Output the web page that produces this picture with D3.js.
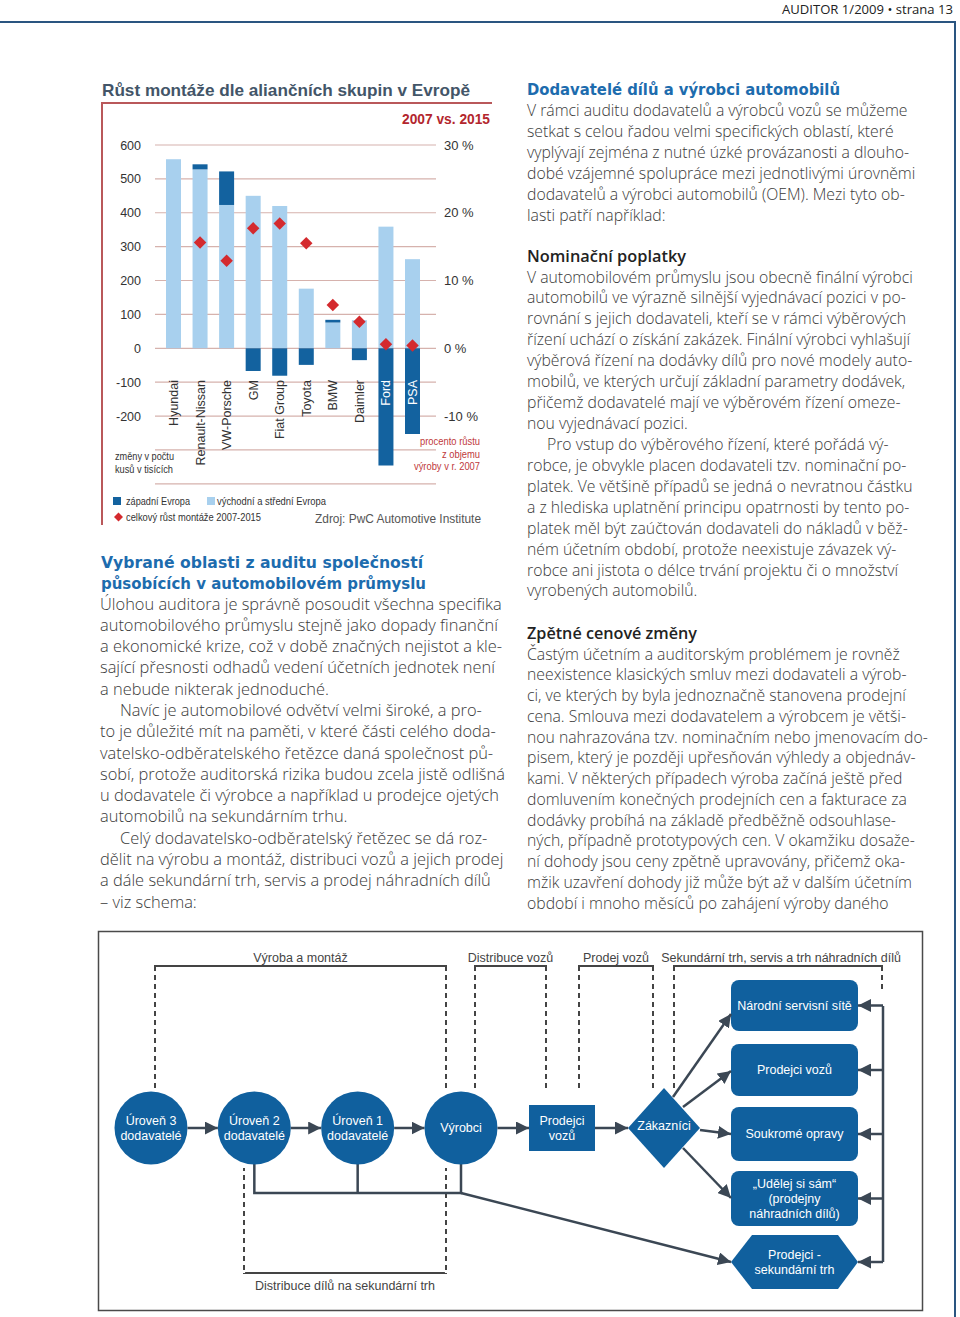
<!DOCTYPE html>
<html><head><meta charset="utf-8">
<script src="https://cdn.jsdelivr.net/npm/d3@7"></script>
<style>body{margin:0;background:#fff}svg{display:block}</style>
</head><body>
<svg id="page" width="960" height="1317"></svg>
<script>
// ---------- chart data ----------
const categories = ["Hyundai","Renault-Nissan","VW-Porsche","GM","Fiat Group","Toyota","BMW","Daimler","Ford","PSA"];
const eastCentral = [558,528,423,450,420,176,76,83,359,263];      // východní a střední Evropa (tis. ks)
const western     = [0,15,99,-67,-81,-49,8,-35,-346,-253];         // západní Evropa (tis. ks)
const totalGrowthPct = [null,15.6,12.9,17.7,18.4,15.5,6.4,3.9,0.6,0.4]; // celkový růst montáže (%)
const leftTicks  = [600,500,400,300,200,100,0,-100,-200];
const gridTicks  = [600,500,400,300,200,100,0,-100,-200,-300,-400];
const rightTicks = [30,20,10,0,-10];
const chartTitle = "Růst montáže dle aliančních skupin v Evropě";

// ---------- text ----------
const headerText = "AUDITOR 1/2009 • strana 13";
const leftHeading = ["Vybrané oblasti z auditu společností","působících v automobilovém průmyslu"];
const leftBody = [
 "Úlohou auditora je správně posoudit všechna specifika",
 "automobilového průmyslu stejně jako dopady finanční",
 "a ekonomické krize, což v době značných nejistot a kle-",
 "sající přesnosti odhadů vedení účetních jednotek není",
 "a nebude nikterak jednoduché.",
 "\tNavíc je automobilové odvětví velmi široké, a pro-",
 "to je důležité mít na paměti, v které části celého doda-",
 "vatelsko-odběratelského řetězce daná společnost pů-",
 "sobí, protože auditorská rizika budou zcela jistě odlišná",
 "u dodavatele či výrobce a například u prodejce ojetých",
 "automobilů na sekundárním trhu.",
 "\tCelý dodavatelsko-odběratelský řetězec se dá roz-",
 "dělit na výrobu a montáž, distribuci vozů a jejich prodej",
 "a dále sekundární trh, servis a prodej náhradních dílů",
 "– viz schema:"
];
const rightHeading1 = "Dodavatelé dílů a výrobci automobilů";
const rightBody1 = [
 "V rámci auditu dodavatelů a výrobců vozů se můžeme",
 "setkat s celou řadou velmi specifických oblastí, které",
 "vyplývají zejména z nutné úzké provázanosti a dlouho-",
 "dobé vzájemné spolupráce mezi jednotlivými úrovněmi",
 "dodavatelů a výrobci automobilů (OEM). Mezi tyto ob-",
 "lasti patří například:"
];
const rightHeading2 = "Nominační poplatky";
const rightBody2 = [
 "V automobilovém průmyslu jsou obecně finální výrobci",
 "automobilů ve výrazně silnější vyjednávací pozici v po-",
 "rovnání s jejich dodavateli, kteří se v rámci výběrových",
 "řízení uchází o získání zakázek. Finální výrobci vyhlašují",
 "výběrová řízení na dodávky dílů pro nové modely auto-",
 "mobilů, ve kterých určují základní parametry dodávek,",
 "přičemž dodavatelé mají ve výběrovém řízení omeze-",
 "nou vyjednávací pozici.",
 "\tPro vstup do výběrového řízení, které pořádá vý-",
 "robce, je obvykle placen dodavateli tzv. nominační po-",
 "platek. Ve většině případů se jedná o nevratnou částku",
 "a z hlediska uplatnění principu opatrnosti by tento po-",
 "platek měl být zaúčtován dodavateli do nákladů v běž-",
 "ném účetním období, protože neexistuje závazek vý-",
 "robce ani jistota o délce trvání projektu či o množství",
 "vyrobených automobilů."
];
const rightHeading3 = "Zpětné cenové změny";
const rightBody3 = [
 "Častým účetním a auditorským problémem je rovněž",
 "neexistence klasických smluv mezi dodavateli a výrob-",
 "ci, ve kterých by byla jednoznačně stanovena prodejní",
 "cena. Smlouva mezi dodavatelem a výrobcem je větši-",
 "nou nahrazována tzv. nominačním nebo jmenovacím do-",
 "pisem, který je později upřesňován výhledy a objednáv-",
 "kami. V některých případech výroba začíná ještě před",
 "domluvením konečných prodejních cen a fakturace za",
 "dodávky probíhá na základě předběžně odsouhlase-",
 "ných, případně prototypových cen. V okamžiku dosaže-",
 "ní dohody jsou ceny zpětně upravovány, přičemž oka-",
 "mžik uzavření dohody již může být až v dalším účetním",
 "období i mnoho měsíců po zahájení výroby daného"
];

// ---------- diagram labels ----------
const chainNodes = ["Úroveň 3\ndodavatelé","Úroveň 2\ndodavatelé","Úroveň 1\ndodavatelé","Výrobci"];
const serviceNodes = ["Národní servisní sítě","Prodejci vozů","Soukromé opravy","„Udělej si sám“\n(prodejny\nnáhradních dílů)","Prodejci -\nsekundární trh"];
const sectionLabels = ["Výroba a montáž","Distribuce vozů","Prodej vozů","Sekundární trh, servis a trh náhradních dílů"];

const svg = d3.select("#page");
const SANS = "'Liberation Sans', Arial, sans-serif";
const BODY = "'Open Sans', 'Noto Sans', sans-serif";

// ---------- header ----------
svg.append("text").attr("x",953).attr("y",14).attr("text-anchor","end")
  .attr("font-family",BODY).attr("font-size",12.5).attr("fill","#222")
  .attr("textLength",171).attr("lengthAdjust","spacingAndGlyphs").text(headerText);
svg.append("path").attr("d","M0,22H955V1317").attr("fill","none").attr("stroke","#2a5580").attr("stroke-width",2);

// ---------- chart ----------
const ch = svg.append("g");
ch.append("text").attr("x",102).attr("y",96).attr("font-family",SANS).attr("font-weight","bold")
  .attr("font-size",17).attr("fill","#435568").attr("textLength",368).attr("lengthAdjust","spacingAndGlyphs").text(chartTitle);
ch.append("path").attr("d","M102,525V103H492").attr("stroke","#b9585a").attr("stroke-width",2).attr("fill","none");
ch.append("text").attr("x",490).attr("y",124).attr("text-anchor","end").attr("font-family",SANS).attr("font-weight","bold")
  .attr("font-size",14).attr("fill","#b3262d").attr("textLength",88).attr("lengthAdjust","spacingAndGlyphs").text("2007 vs. 2015");

const y = d3.scaleLinear().domain([-400,600]).range([483.8,145]);
const yPct = d3.scaleLinear().domain([-20,30]).range([483.8,145]);
const x = d3.scalePoint().domain(categories).range([173.5,412.5]);
const barW = 15;

ch.append("g").selectAll("line").data(gridTicks).join("line")
  .attr("x1",155).attr("x2",436).attr("y1",d=>y(d)).attr("y2",d=>y(d))
  .attr("stroke","#d6b2ad").attr("stroke-width",1.2);

const la = ch.append("g").attr("transform","translate(141,0)")
  .call(d3.axisLeft(y).tickValues(leftTicks).tickSize(0).tickPadding(0).tickFormat(d=>String(d)));
la.select(".domain").remove();
la.selectAll("text").attr("font-family",SANS).attr("font-size",12.5).attr("fill","#333");

const ra = ch.append("g").attr("transform","translate(444,0)")
  .call(d3.axisRight(yPct).tickValues(rightTicks).tickSize(0).tickPadding(0).tickFormat(d=>String(d)+" %"));
ra.select(".domain").remove();
ra.selectAll("text").attr("font-family",SANS).attr("font-size",13).attr("fill","#333");

const LIGHT = "#a8d0ee", DARK = "#13629f";
ch.append("g").selectAll("rect").data(categories).join("rect")
  .attr("x",d=>x(d)-barW/2).attr("width",barW)
  .attr("y",(d,i)=>y(eastCentral[i])).attr("height",(d,i)=>y(0)-y(eastCentral[i]))
  .attr("fill",LIGHT);
ch.append("g").selectAll("rect").data(categories).join("rect")
  .attr("x",d=>x(d)-barW/2).attr("width",barW)
  .attr("y",(d,i)=> western[i]>=0 ? y(eastCentral[i]+western[i]) : y(0))
  .attr("height",(d,i)=> western[i]>=0 ? y(eastCentral[i])-y(eastCentral[i]+western[i]) : y(western[i])-y(0))
  .attr("fill",DARK);

const diamond = d3.symbol(d3.symbolSquare, 78);
ch.append("g").selectAll("path").data(categories.map((c,i)=>({c,v:totalGrowthPct[i]})).filter(d=>d.v!==null)).join("path")
  .attr("d",diamond).attr("transform",d=>`translate(${x(d.c)},${yPct(d.v)}) rotate(45)`)
  .attr("fill","#d42a2e");

ch.append("g").selectAll("text").data(categories).join("text")
  .attr("transform",d=>`translate(${x(d)+4.5},380) rotate(-90)`)
  .attr("text-anchor","end").attr("font-family",SANS).attr("font-size",12.5)
  .attr("fill",(d,i)=> (western[i] < -200) ? "#fff" : "#333").text(d=>d);

function ltext(g, t, xx, yy, w, opts={}) {
  const el = g.append("text").attr("x",xx).attr("y",yy).attr("font-family",opts.family||SANS)
    .attr("font-size",opts.size||10.5).attr("fill",opts.fill||"#333").text(t);
  if (opts.anchor) el.attr("text-anchor",opts.anchor);
  if (opts.weight) el.attr("font-weight",opts.weight);
  if (w) el.attr("textLength",w).attr("lengthAdjust","spacingAndGlyphs");
  return el;
}
ltext(ch,"změny v počtu",115,460,59);
ltext(ch,"kusů v tisících",115,472.5,58);
ltext(ch,"procento růstu",480,445,60,{anchor:"end",fill:"#c0393b"});
ltext(ch,"z objemu",480,457.5,38,{anchor:"end",fill:"#c0393b"});
ltext(ch,"výroby v r. 2007",480,470,66,{anchor:"end",fill:"#c0393b"});
ch.append("rect").attr("x",113).attr("y",497).attr("width",8).attr("height",8).attr("fill",DARK);
ltext(ch,"západní Evropa",126,505,64);
ch.append("rect").attr("x",207).attr("y",497).attr("width",8).attr("height",8).attr("fill",LIGHT);
ltext(ch,"východní a střední Evropa",217,505,109);
ch.append("path").attr("d",d3.symbol(d3.symbolSquare,40)).attr("transform","translate(118.5,517) rotate(45)").attr("fill","#d42a2e");
ltext(ch,"celkový růst montáže 2007-2015",126,521,135);
ltext(ch,"Zdroj: PwC Automotive Institute",481,523,166,{anchor:"end",size:13,fill:"#555"});

// ---------- body text ----------
const tg = svg.append("g");
function heading(t, xx, yy, w, color, family, weight, size) {
  return tg.append("text").attr("x",xx).attr("y",yy).attr("font-family",family).attr("font-weight",weight)
    .attr("font-size",size).attr("fill",color).attr("textLength",w).attr("lengthAdjust","spacingAndGlyphs").text(t);
}
const BLUE = "#1d6cae";
heading(rightHeading1,527,95,313,BLUE,"'DejaVu Sans', Verdana, sans-serif","bold",15);
heading(leftHeading[0],101,568,322,BLUE,"'DejaVu Sans', Verdana, sans-serif","bold",15);
heading(leftHeading[1],101,589,325,BLUE,"'DejaVu Sans', Verdana, sans-serif","bold",15);
heading(rightHeading2,527,262,159,"#222",BODY,"600",15.5);
heading(rightHeading3,527,639,170,"#222",BODY,"600",15.5);

const blocks = [
  {lines:leftBody, x:100, y0:609.5, step:21.29, col:0},
  {lines:rightBody1, x:527, y0:115.5, step:21, col:1},
  {lines:rightBody2, x:527, y0:282.5, step:20.93, col:1},
  {lines:rightBody3, x:527, y0:659.5, step:20.75, col:1}
];
const allText = [];
blocks.forEach(b=>{
  b.lines.forEach((ln,i)=>{
    const ind = ln.startsWith("\t");
    const t = tg.append("text").attr("x",b.x+(ind?20:0)).attr("y",b.y0+i*b.step)
      .attr("font-family",BODY).attr("font-weight",300).attr("font-size",15).attr("fill","#3a3a3a").text(ind?ln.slice(1):ln);
    allText.push({t, col:b.col, ind});
  });
});
const targets = [405, 401];
[0,1].forEach(c=>{
  const items = allText.filter(d=>d.col===c);
  const mx = d3.max(items, d=>d.t.node().getComputedTextLength() + (d.ind?20:0));
  const fs = 15 * targets[c] / mx;
  items.forEach(d=>d.t.attr("font-size",fs));
});

// ---------- diagram ----------
const dg = svg.append("g");
dg.append("rect").attr("x",98.5).attr("y",931.5).attr("width",824).attr("height",379)
  .attr("fill","none").attr("stroke","#4a4a4a").attr("stroke-width",1.5);
const NODE = "#10609e", ARW = "#3b4754";
svg.append("defs").append("marker").attr("id","ah").attr("viewBox","0 0 10 10").attr("refX",10).attr("refY",5)
  .attr("markerUnits","userSpaceOnUse").attr("markerWidth",13).attr("markerHeight",13).attr("orient","auto")
  .append("path").attr("d","M0,0L10,5L0,10z").attr("fill",ARW);

// brackets
const brackets = [
  {x1:155,x2:446,top:966,lb:1088,rb:1088},
  {x1:475,x2:546,top:966,lb:1088,rb:1088},
  {x1:579,x2:653,top:966,lb:1088,rb:1088},
  {x1:674,x2:882,top:966,lb:1088,rb:992}
];
brackets.forEach((b,i)=>{
  dg.append("line").attr("x1",b.x1-1).attr("x2",b.x2+1).attr("y1",b.top).attr("y2",b.top).attr("stroke","#444").attr("stroke-width",2);
  dg.append("line").attr("x1",b.x1).attr("x2",b.x1).attr("y1",b.top).attr("y2",b.lb).attr("stroke","#444").attr("stroke-width",2).attr("stroke-dasharray","5,4");
  dg.append("line").attr("x1",b.x2).attr("x2",b.x2).attr("y1",b.top).attr("y2",b.rb).attr("stroke","#444").attr("stroke-width",2).attr("stroke-dasharray","5,4");
  dg.append("text").attr("x",i===3?781:(b.x1+b.x2)/2).attr("y",961.5).attr("text-anchor","middle")
    .attr("font-family",SANS).attr("font-size",12.5).attr("fill","#444").text(sectionLabels[i]);
});
// bottom bracket
dg.append("path").attr("d","M244,1168V1273H446V1168").attr("fill","none").attr("stroke","#444").attr("stroke-width",2);
dg.append("line").attr("x1",244).attr("x2",244).attr("y1",1166).attr("y2",1273).attr("stroke","#fff").attr("stroke-width",2.2).attr("stroke-dasharray","0,5,4,0");
dg.append("line").attr("x1",446).attr("x2",446).attr("y1",1166).attr("y2",1273).attr("stroke","#fff").attr("stroke-width",2.2).attr("stroke-dasharray","0,5,4,0");
dg.append("text").attr("x",345).attr("y",1289.5).attr("text-anchor","middle").attr("font-family",SANS)
  .attr("font-size",12.5).attr("fill","#444").text("Distribuce dílů na sekundární trh");

function multiline(g, lines, cx, cy, lh, size) {
  const t = g.append("text").attr("text-anchor","middle").attr("font-family",SANS).attr("font-size",size).attr("fill","#fff");
  lines.forEach((l,i)=>t.append("tspan").attr("x",cx).attr("y",cy + (i-(lines.length-1)/2)*lh + size*0.35).text(l));
}
function arrow(x1,y1,x2,y2) {
  dg.append("line").attr("x1",x1).attr("y1",y1).attr("x2",x2).attr("y2",y2)
    .attr("stroke",ARW).attr("stroke-width",2.5).attr("marker-end","url(#ah)");
}
function seg(d) { dg.append("path").attr("d",d).attr("fill","none").attr("stroke",ARW).attr("stroke-width",2.5); }

const cx = d3.scalePoint().domain(chainNodes).range([151,461]);
const CY = 1128, R = 36.5;
// collection lines
seg(`M${cx(chainNodes[1])},${CY}V1193H${cx(chainNodes[3])}V${CY}M${cx(chainNodes[2])},${CY}V1193`);
arrow(cx(chainNodes[3]),1193,731,1262);
chainNodes.forEach((n,i)=>{
  dg.append("circle").attr("cx",cx(n)).attr("cy",CY).attr("r",R).attr("fill",NODE);
  multiline(dg, n.split("\n"), cx(n), CY, 15, 12.5);
  if (i<3) arrow(cx(n)+R, CY, cx(chainNodes[i+1])-R, CY);
});
arrow(cx(chainNodes[3])+R, CY, 529, CY);
dg.append("rect").attr("x",529).attr("y",1105).attr("width",66).attr("height",46).attr("fill",NODE);
multiline(dg, ["Prodejci","vozů"], 562, 1128, 15, 12.5);
arrow(595, CY, 628, CY);
dg.append("path").attr("d","M664,1088L700,1128L664,1168L628,1128z").attr("fill",NODE);
multiline(dg, ["Zákazníci"], 664, 1126, 15, 12.5);

const boxes = [[980,1031],[1044,1096],[1107,1161],[1171,1226]];
// right collector
seg("M883,1006V1262");
boxes.forEach((b,i)=>{
  dg.append("rect").attr("x",731).attr("y",b[0]).attr("width",127).attr("height",b[1]-b[0]).attr("rx",8).attr("fill",NODE);
  multiline(dg, serviceNodes[i].split("\n"), 794.5, (b[0]+b[1])/2, 15, 12.5);
  arrow(883,(b[0]+b[1])/2,858,(b[0]+b[1])/2);
});
dg.append("path").attr("d","M731,1262L752,1235H838L858,1262L838,1289H752z").attr("fill",NODE);
multiline(dg, serviceNodes[4].split("\n"), 794.5, 1262, 15, 12.5);
arrow(883,1262,858,1262);
arrow(673,1097,731,1014);
arrow(683,1107,731,1071);
arrow(700,1130,731,1134);
arrow(683,1148,731,1198);
</script>
</body></html>
